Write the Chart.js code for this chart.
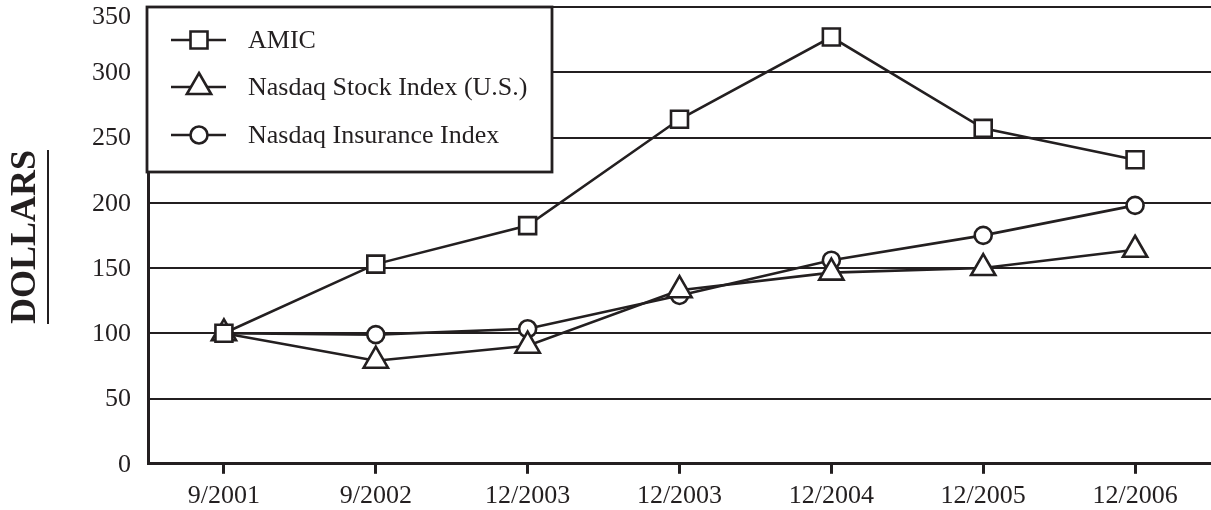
<!DOCTYPE html>
<html>
<head>
<meta charset="utf-8">
<script src="https://cdn.jsdelivr.net/npm/chart.js@4/dist/chart.umd.min.js"></script>
<style>
html,body{margin:0;padding:0;background:#fff;}
#wrap{width:1211px;height:510px;position:relative;}
</style>
</head>
<body>
<div id="wrap"><canvas id="c" width="1211" height="510"></canvas></div>
<script>
const categories = ["9/2001","9/2002","12/2003","12/2003","12/2004","12/2005","12/2006"];
const amic = [100, 153, 182.5, 264, 327, 257, 233];
const nasdaqStock = [100, 79, 90.5, 133, 146.5, 150, 164];
const nasdaqInsurance = [100, 99, 103.5, 129, 156, 175, 198];
const yTicks = [0, 50, 100, 150, 200, 250, 300, 350];
const yTitle = "DOLLARS";

const INK = '#231f20';
const FONT = '"Liberation Serif", "Times New Roman", serif';

function ds(label, data, style, r) {
  return {
    label, data,
    borderColor: INK, borderWidth: 2.6,
    pointStyle: style, pointRadius: r, pointHoverRadius: r,
    pointBackgroundColor: '#fff', pointBorderColor: INK, pointBorderWidth: 2.6,
    tension: 0, fill: false, clip: false
  };
}

const decorPlugin = {
  id: 'decor',
  afterDatasetsDraw(chart) {
    const ctx = chart.ctx;
    const a = chart.chartArea;
    // legend box
    const x0 = a.left - 1, y0 = a.top, w = 405, h = 165;
    ctx.save();
    ctx.fillStyle = '#fff';
    ctx.fillRect(x0, y0, w, h);
    ctx.strokeStyle = INK;
    ctx.lineWidth = 2.8;
    ctx.strokeRect(x0, y0, w, h);
    const rows = [33, 80, 128];
    chart.data.datasets.forEach((d, i) => {
      const y = y0 + rows[i];
      ctx.strokeStyle = INK; ctx.lineWidth = 2.6;
      ctx.beginPath(); ctx.moveTo(x0 + 24, y); ctx.lineTo(x0 + 79, y); ctx.stroke();
      ctx.fillStyle = '#fff';
      ctx.strokeStyle = INK;
      Chart.helpers.drawPoint(ctx, {pointStyle: d.pointStyle, radius: d.pointRadius, borderWidth: 2.6}, x0 + 52, y);
      ctx.fillStyle = INK;
      ctx.font = '26px ' + FONT;
      ctx.textBaseline = 'middle';
      ctx.textAlign = 'left';
      ctx.fillText(d.label, x0 + 101, y + 1);
    });
    ctx.restore();
  },
  afterDraw(chart) {
    const ctx = chart.ctx;
    const ys = chart.scales.y;
    ctx.save();
    // y tick labels (top one kept inside the canvas)
    ctx.font = '26px ' + FONT;
    ctx.fillStyle = INK;
    ctx.textAlign = 'right';
    ctx.textBaseline = 'middle';
    yTicks.forEach(v => {
      const py = Math.max(ys.getPixelForValue(v) + 1, 17);
      ctx.fillText(String(v), ys.right - 17, py);
    });
    // axis title
    ctx.translate(26, 237);
    ctx.rotate(-Math.PI / 2);
    ctx.font = 'bold 36px ' + FONT;
    ctx.textAlign = 'center';
    ctx.textBaseline = 'middle';
    ctx.fillText(yTitle, 0, 0);
    const tw = ctx.measureText(yTitle).width;
    ctx.strokeStyle = INK; ctx.lineWidth = 2;
    ctx.beginPath(); ctx.moveTo(-tw / 2, 22); ctx.lineTo(tw / 2, 22); ctx.stroke();
    ctx.restore();
  }
};

new Chart(document.getElementById('c'), {
  type: 'line',
  data: {
    labels: categories,
    datasets: [
      ds('AMIC', amic, 'rect', 12),
      ds('Nasdaq Stock Index (U.S.)', nasdaqStock, 'triangle', 14),
      ds('Nasdaq Insurance Index', nasdaqInsurance, 'circle', 8.5)
    ]
  },
  options: {
    responsive: false,
    animation: false,
    devicePixelRatio: 1,
    layout: {autoPadding: false, padding: {left: 0, right: 0, top: 7, bottom: -9}},
    plugins: {legend: {display: false}, tooltip: {enabled: false}},
    scales: {
      x: {
        offset: true,
        grid: {display: true, drawOnChartArea: false, drawTicks: true, tickLength: 10, tickWidth: 3, tickColor: INK, offset: false},
        border: {display: true, color: INK, width: 3},
        ticks: {color: INK, font: {family: FONT, size: 26}, padding: 7, maxRotation: 0, autoSkip: false}
      },
      y: {
        min: 0, max: 350,
        afterFit(s) { s.width = 148; },
        afterBuildTicks(s) { s.ticks = yTicks.map(v => ({value: v})); },
        grid: {color: INK, lineWidth: 2, drawTicks: false},
        border: {display: true, color: INK, width: 3},
        ticks: {display: false}
      }
    }
  },
  plugins: [decorPlugin]
});
</script>
</body>
</html>
